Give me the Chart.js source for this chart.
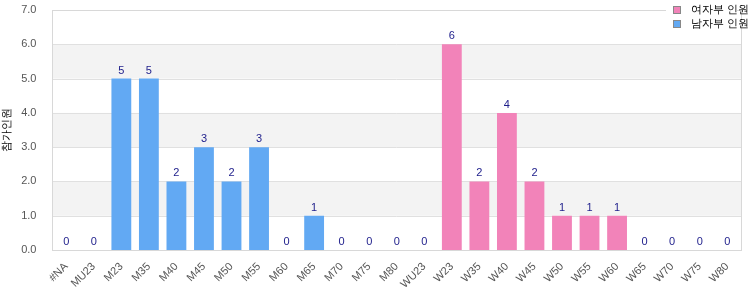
<!DOCTYPE html>
<html>
<head>
<meta charset="utf-8">
<script src="https://cdn.jsdelivr.net/npm/chart.js@4"></script>
<style>
html,body{margin:0;padding:0;background:#fff;}
#wrap{width:750px;height:300px;}
</style>
</head>
<body>
<div id="wrap"><canvas id="c" width="750" height="300"></canvas></div>
<script>
const categories = ["#NA","MU23","M23","M35","M40","M45","M50","M55","M60","M65","M70","M75","M80","WU23","W23","W35","W40","W45","W50","W55","W60","W65","W70","W75","W80"];
const menValues = [0,0,5,5,2,3,2,3,0,1,0,0,0,0,null,null,null,null,null,null,null,null,null,null,null];
const womenValues = [null,null,null,null,null,null,null,null,null,null,null,null,null,null,6,2,4,2,1,1,1,0,0,0,0];
const seriesNames = ["여자부 인원","남자부 인원"];
const yTitle = "참가인원";
const yTicks = [0,1,2,3,4,5,6,7];

const PINK = "#f283b9";
const BLUE = "#62a9f3";
const FONT = "'Liberation Sans', Arial, sans-serif";

const decor = {
  id: "decor",
  beforeDatasetsDraw(chart) {
    const {ctx, chartArea: a, scales: {y}} = chart;
    ctx.save();
    for (let i = 0; i < yTicks.length - 1; i++) {
      if (i % 2 === 1) {
        const t = y.getPixelForValue(yTicks[i + 1]);
        const b = y.getPixelForValue(yTicks[i]);
        ctx.fillStyle = "#f3f3f3";
        ctx.fillRect(a.left, t, a.right - a.left, b - t);
      }
    }
    ctx.strokeStyle = "#e0e0e0";
    ctx.lineWidth = 1;
    for (const v of yTicks) {
      const p = Math.round(y.getPixelForValue(v)) + 0.5;
      ctx.beginPath(); ctx.moveTo(a.left, p); ctx.lineTo(a.right, p); ctx.stroke();
    }
    ctx.strokeStyle = "#d8d8d8";
    ctx.strokeRect(Math.round(a.left) + 0.5, Math.round(a.top) + 0.5, Math.round(a.right - a.left), Math.round(a.bottom - a.top));
    ctx.restore();
  },
  afterDatasetsDraw(chart) {
    const {ctx} = chart;
    ctx.save();
    ctx.font = "11px " + FONT;
    ctx.fillStyle = "#1c1c8a";
    ctx.textAlign = "center";
    ctx.textBaseline = "alphabetic";
    chart.data.datasets.forEach((ds, di) => {
      const meta = chart.getDatasetMeta(di);
      meta.data.forEach((el, i) => {
        const v = ds.data[i];
        if (v === null || v === undefined) return;
        ctx.fillText(String(v), el.x, el.y - 5);
      });
    });
    // legend overlay
    ctx.fillStyle = "#fff";
    ctx.fillRect(666, 0, 71, 34);
    const cols = [PINK, BLUE];
    ctx.textAlign = "left";
    ctx.textBaseline = "middle";
    ctx.font = "11px " + FONT;
    seriesNames.forEach((n, k) => {
      const yy = 6 + k * 14;
      ctx.fillStyle = cols[k];
      ctx.fillRect(673.5, yy + 0.5, 7, 7);
      ctx.strokeStyle = "#888";
      ctx.strokeRect(673.5, yy + 0.5, 7, 7);
      ctx.fillStyle = "#000";
      ctx.fillText(n, 691, yy + 4);
    });
    ctx.restore();
  }
};

new Chart(document.getElementById("c"), {
  type: "bar",
  data: {
    labels: categories,
    datasets: [
      {label: seriesNames[1], data: menValues, backgroundColor: BLUE, barPercentage: 0.8, categoryPercentage: 0.9},
      {label: seriesNames[0], data: womenValues, backgroundColor: PINK, barPercentage: 0.8, categoryPercentage: 0.9}
    ]
  },
  options: {
    responsive: false,
    animation: false,
    layout: {padding: {top: 10, right: 9, left: 0, bottom: 7}},
    plugins: {legend: {display: false}, tooltip: {enabled: false}},
    scales: {
      x: {
        stacked: true,
        grid: {display: false},
        border: {display: false},
        ticks: {color: "#555", font: {family: FONT, size: 11}, maxRotation: 45, minRotation: 45, autoSkip: false, padding: 2}
      },
      y: {
        stacked: true,
        min: 0, max: 7,
        grid: {display: false},
        border: {display: false},
        afterFit: s => { s.paddingTop = 0; },
        ticks: {stepSize: 1, color: "#555", font: {family: FONT, size: 11}, padding: 8, callback: v => v.toFixed(1)},
        title: {display: true, text: yTitle, color: "#000", font: {family: FONT, size: 11}, padding: 0}
      }
    }
  },
  plugins: [decor]
});
</script>
</body>
</html>
